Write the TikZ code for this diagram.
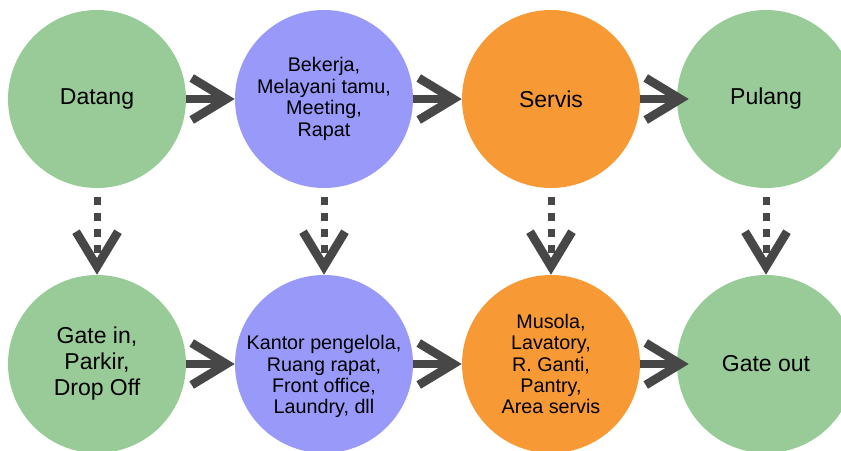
\documentclass[tikz,border=0pt]{standalone}
\usepackage{fontspec}
\setmainfont{Liberation Sans}
\usetikzlibrary{arrows.meta}

\definecolor{stageGreen}{HTML}{99CB98}
\definecolor{stagePurple}{HTML}{9999FA}
\definecolor{stageOrange}{HTML}{F79A36}
\definecolor{arrowGray}{HTML}{474747}

\begin{document}
\begin{tikzpicture}[x=0.75pt,y=-0.75pt,
  stage/.style={circle,inner sep=0pt,minimum size=133.5pt,align=center,text=black},
  bigtext/.style={font=\fontsize{17.25}{19.5}\selectfont},
  smalltext/.style={font=\fontsize{14.8}{16.1}\selectfont},
  flow/.style={draw=arrowGray,line width=6pt,
    -{Straight Barb[length=26pt,width=31.5pt,line width=6.5pt]}},
  link/.style={draw=arrowGray,line width=5.25pt,dash pattern=on 6pt off 6pt,
    shorten <=6.75pt,
    -{Straight Barb[length=26pt,width=31.5pt,line width=6.5pt]}}
]
\useasboundingbox (0,0) rectangle (841,450);
\clip (0,0) rectangle (841,450);

% activities
\node[stage,fill=stageGreen,bigtext]   (datang) at (97,99)  {Datang};
\node[stage,fill=stagePurple,smalltext] (kerja)  at (324,99) {Bekerja,\\Melayani tamu,\\Meeting,\\Rapat};
\node[stage,fill=stageOrange,bigtext]  (servis) at (551,99) {Servis};
\node[stage,fill=stageGreen,bigtext]   (pulang) at (766,99) {Pulang};

% spaces
\node[stage,fill=stageGreen,bigtext]   (gatein)  at (97,364)  {Gate in,\\Parkir,\\Drop Off};
\node[stage,fill=stagePurple,
  label={[smalltext,align=center,text=black,yshift=-9.5pt]center:Kantor pengelola,\\Ruang rapat,\\Front office,\\Laundry, dll}]
  (kantor)  at (324,364) {};
\node[stage,fill=stageOrange,smalltext] (musola)  at (551,364) {Musola,\\Lavatory,\\R. Ganti,\\Pantry,\\Area servis};
\node[stage,fill=stageGreen,bigtext]   (gateout) at (766,364) {Gate out};

% activity sequence
\draw[flow] (datang.east) -- (kerja.west);
\draw[flow] (kerja.east) -- (servis.west);
\draw[flow,shorten >=-9pt] (servis.east) -- (pulang.west);

% space sequence
\draw[flow] (gatein.east) -- (kantor.west);
\draw[flow] (kantor.east) -- (musola.west);
\draw[flow,shorten >=-9pt] (musola.east) -- (gateout.west);

% activity to space
\draw[link] (datang.south) -- (gatein.north);
\draw[link] (kerja.south) -- (kantor.north);
\draw[link] (servis.south) -- (musola.north);
\draw[link] (pulang.south) -- (gateout.north);
\end{tikzpicture}
\end{document}
